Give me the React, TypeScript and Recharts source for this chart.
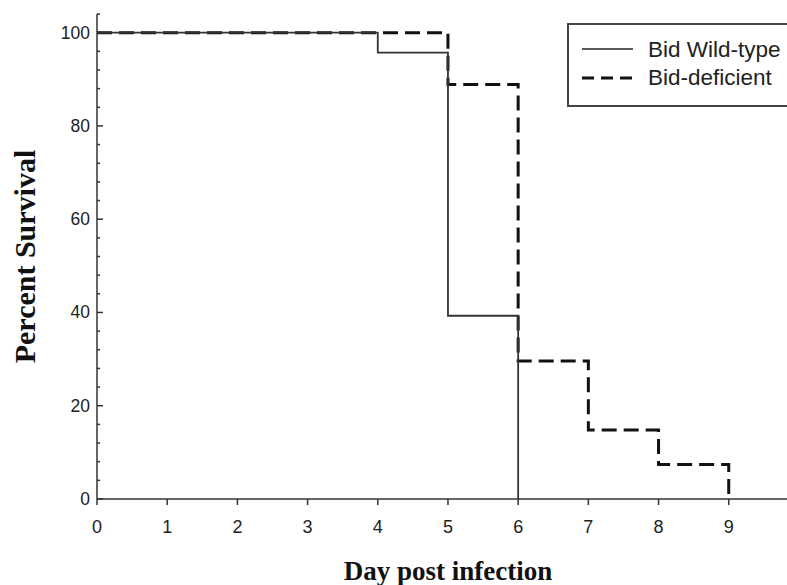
import { LineChart, Line, XAxis, YAxis, Legend } from 'recharts'

// days post infection
const days = [0, 1, 2, 3, 4, 5, 6, 7, 8, 9]
// percent survival
const wildType = [100, 100, 100, 100, 95.7, 39.3, 0, null, null, null]
const deficient = [100, 100, 100, 100, 100, 88.9, 29.6, 14.8, 7.4, 0]

const xTicks = [0, 1, 2, 3, 4, 5, 6, 7, 8, 9]
const yTicks = [0, 4, 8, 12, 16, 20, 24, 28, 32, 36, 40, 44, 48, 52, 56, 60, 64, 68, 72, 76, 80, 84, 88, 92, 96, 100, 104]

const seriesNames = { wt: 'Bid Wild-type', ko: 'Bid-deficient' }

const data = days.map((d, i) => ({ day: d, wt: wildType[i], ko: deficient[i] }))

const tickFont = '"Liberation Sans", Arial, sans-serif'
const titleFont = '"Liberation Serif", "Times New Roman", serif'

const YTick = (props: any) => {
  const { x, y, payload } = props
  const major = payload.value % 20 === 0
  return (
    <g>
      <line x1={x} x2={x + (major ? 6 : 3)} y1={y} y2={y} stroke="#333" strokeWidth={1.5} />
      {major && (
        <text x={x - 7} y={y + 6} textAnchor="end" fontSize={17.5} fontFamily={tickFont} fill="#222">
          {payload.value}
        </text>
      )}
    </g>
  )
}

const XTick = (props: any) => {
  const { x, y, payload } = props
  return (
    <g>
      <line x1={x} x2={x} y1={y} y2={y + 6} stroke="#333" strokeWidth={1.5} />
      <text x={x} y={y + 34} textAnchor="middle" fontSize={18} fontFamily={tickFont} fill="#222">
        {payload.value}
      </text>
    </g>
  )
}

const LegendBox = () => (
  <svg width={240} height={84} style={{ display: 'block' }}>
    <rect x={1} y={1} width={260} height={82} fill="#fff" stroke="#444" strokeWidth={2} />
    <line x1={15} x2={66} y1={26} y2={26} stroke="#222" strokeWidth={1.5} />
    <text x={81} y={34} fontSize={22.5} fontFamily={tickFont} fill="#222">
      {seriesNames.wt}
    </text>
    <line x1={15} x2={66} y1={55} y2={55} stroke="#111" strokeWidth={3} strokeDasharray="12 7" />
    <text x={81} y={62} fontSize={22.5} fontFamily={tickFont} fill="#222">
      {seriesNames.ko}
    </text>
  </svg>
)

export default function App() {
  return (
    <div style={{ position: 'absolute', left: 0, top: 0, width: 787, height: 585, overflow: 'hidden', background: '#fff' }}>
      <LineChart width={787} height={585} data={data} margin={{ top: 14, right: 0, left: 0, bottom: 0 }}>
        <XAxis
          dataKey="day"
          type="number"
          domain={[0, 9.83]}
          ticks={xTicks}
          allowDataOverflow
          height={86}
          tickSize={0}
          tickMargin={0}
          tickLine={false}
          tick={<XTick />}
          stroke="#333"
          strokeWidth={1.5}
          label={{
            value: 'Day post infection',
            position: 'insideBottom',
            offset: 5,
            dx: 6,
            style: { fontFamily: titleFont, fontWeight: 'bold', fontSize: 27, fill: '#111' },
          }}
        />
        <YAxis
          type="number"
          domain={[0, 104]}
          ticks={yTicks}
          width={97}
          tickSize={0}
          tickMargin={0}
          tickLine={false}
          tick={<YTick />}
          interval={0}
          stroke="#333"
          strokeWidth={1.5}
          label={{
            content: (p: any) => {
              const vb = p.viewBox
              const cy = vb.y + vb.height / 2
              return (
                <text
                  x={24}
                  y={cy}
                  transform={`rotate(-90 24 ${cy})`}
                  textAnchor="middle"
                  dominantBaseline="central"
                  fontFamily={titleFont}
                  fontWeight="bold"
                  fontSize={30}
                  fill="#111"
                >
                  Percent Survival
                </text>
              )
            },
          }}
        />
        <Legend
          layout="horizontal"
          align="center"
          verticalAlign="middle"
          content={() => <LegendBox />}
          wrapperStyle={{ position: 'absolute', left: 567, top: 23, width: 240 }}
        />
        <Line
          dataKey="ko"
          name={seriesNames.ko}
          type="stepAfter"
          stroke="#111"
          strokeWidth={3}
          strokeDasharray="15 7"
          dot={false}
          isAnimationActive={false}
        />
        <Line
          dataKey="wt"
          name={seriesNames.wt}
          type="stepAfter"
          stroke="#333"
          strokeWidth={1.8}
          dot={false}
          isAnimationActive={false}
        />
      </LineChart>
    </div>
  )
}
